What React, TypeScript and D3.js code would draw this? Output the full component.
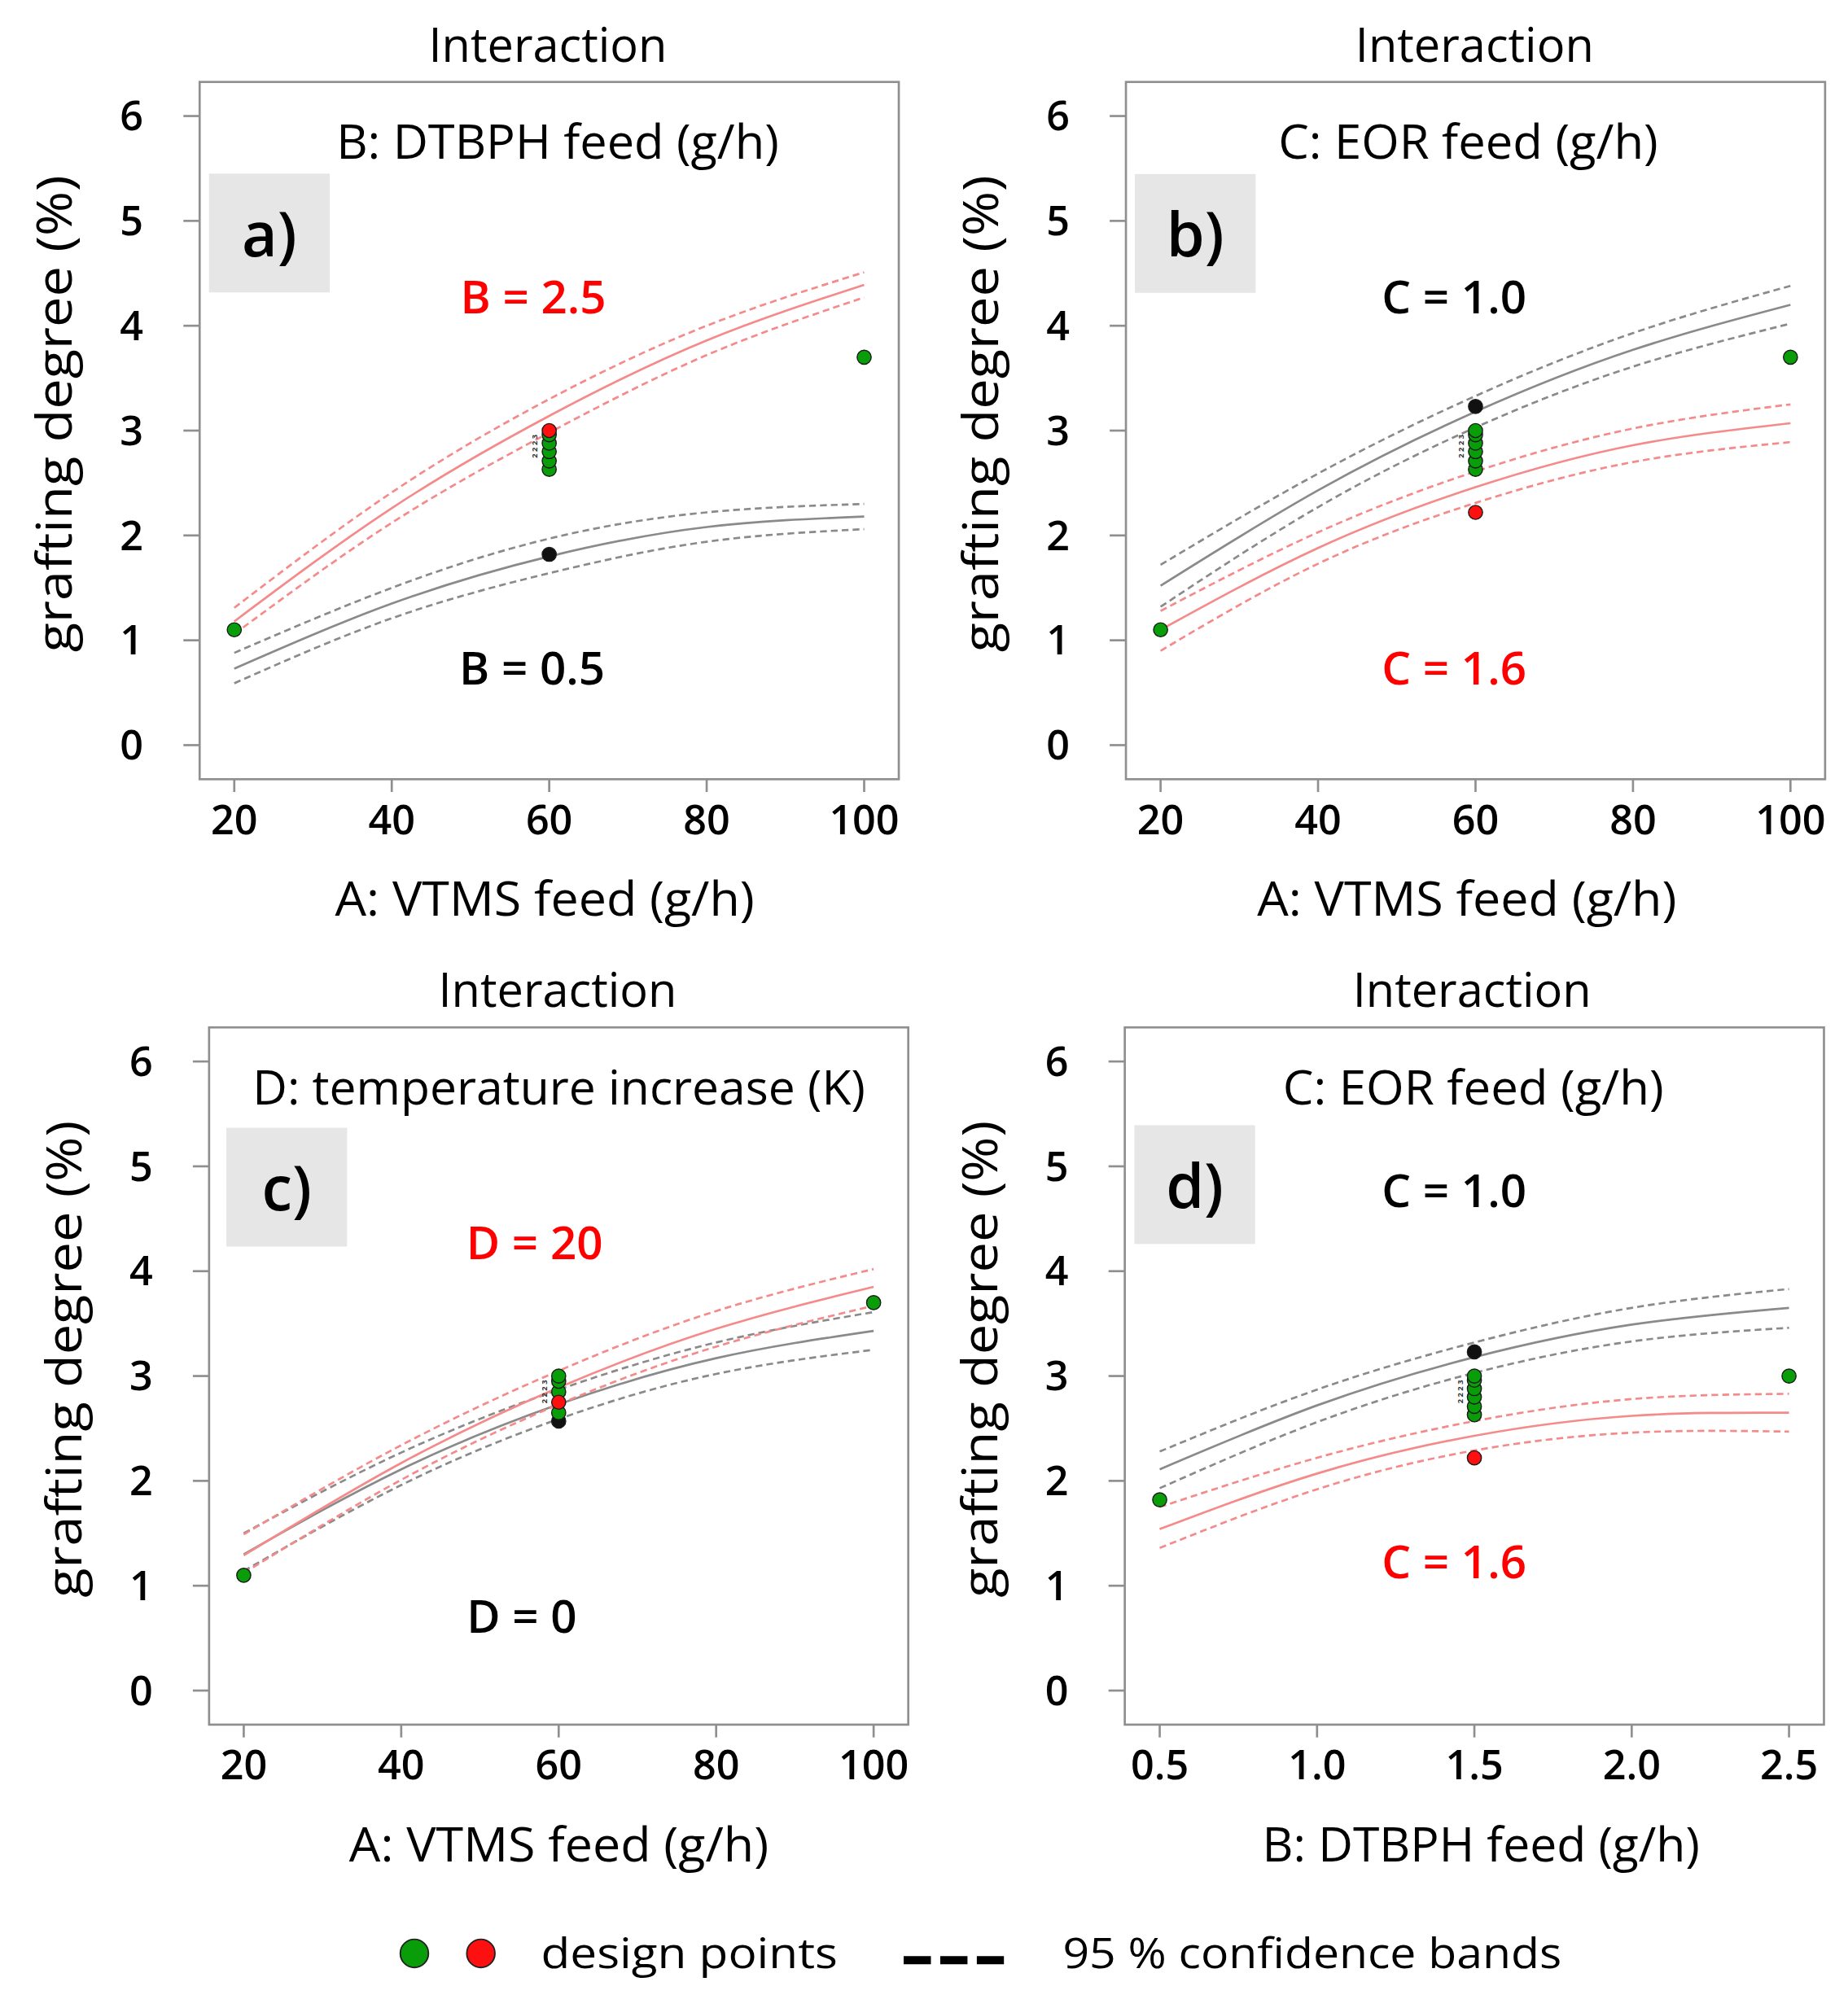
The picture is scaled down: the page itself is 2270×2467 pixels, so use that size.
import * as d3 from "d3";

// ---- data ----
const yTicks = [0, 1, 2, 3, 4, 5, 6];
const vtmsTicks = [20, 40, 60, 80, 100];
const dtbphTicks = [0.5, 1.0, 1.5, 2.0, 2.5];

// sample positions for the model curves
const vtmsX = [20, 40, 60, 80, 100];
const dtbphX = [0.5, 1.0, 1.5, 2.0, 2.5];

// a) A x B  (red: B = 2.5, gray: B = 0.5)
const aRedFit = [1.18, 2.26, 3.14, 3.86, 4.39];
const aRedHi = [1.31, 2.41, 3.3, 4.0, 4.51];
const aRedLo = [1.06, 2.12, 2.98, 3.72, 4.27];
const aGrayFit = [0.73, 1.35, 1.8, 2.08, 2.18];
const aGrayHi = [0.88, 1.5, 1.97, 2.22, 2.3];
const aGrayLo = [0.59, 1.21, 1.64, 1.94, 2.06];

// b) A x C  (gray: C = 1.0, red: C = 1.6)
const bGrayFit = [1.52, 2.43, 3.18, 3.77, 4.2];
const bGrayHi = [1.72, 2.59, 3.33, 3.93, 4.38];
const bGrayLo = [1.32, 2.27, 3.03, 3.61, 4.02];
const bRedFit = [1.1, 1.88, 2.46, 2.86, 3.07];
const bRedHi = [1.28, 2.03, 2.61, 3.02, 3.25];
const bRedLo = [0.9, 1.73, 2.31, 2.7, 2.89];

// c) A x D  (red: D = 20, gray: D = 0)
const cRedFit = [1.29, 2.17, 2.89, 3.45, 3.85];
const cRedHi = [1.49, 2.34, 3.05, 3.62, 4.02];
const cRedLo = [1.12, 2.01, 2.73, 3.28, 3.67];
const cGrayFit = [1.3, 2.11, 2.73, 3.17, 3.43];
const cGrayHi = [1.5, 2.27, 2.87, 3.32, 3.61];
const cGrayLo = [1.14, 1.96, 2.59, 3.02, 3.25];

// d) B x C  (gray: C = 1.0, red: C = 1.6)
const dGrayFit = [2.11, 2.72, 3.18, 3.49, 3.65];
const dGrayHi = [2.28, 2.87, 3.32, 3.65, 3.83];
const dGrayLo = [1.93, 2.56, 3.03, 3.33, 3.46];
const dRedFit = [1.54, 2.07, 2.43, 2.62, 2.65];
const dRedHi = [1.75, 2.22, 2.57, 2.78, 2.83];
const dRedLo = [1.36, 1.92, 2.29, 2.46, 2.47];

// design points: [x, y, colour]
const aPoints: [number, number, string][] = [
  [20, 1.1, "g"], [100, 3.7, "g"], [60, 1.82, "k"],
  [60, 2.63, "g"], [60, 2.71, "g"], [60, 2.8, "g"], [60, 2.88, "g"], [60, 2.96, "g"],
  [60, 3.0, "r"],
];
const bPoints: [number, number, string][] = [
  [20, 1.1, "g"], [100, 3.7, "g"], [60, 3.23, "k"], [60, 2.22, "r"],
  [60, 2.63, "g"], [60, 2.71, "g"], [60, 2.8, "g"], [60, 2.88, "g"], [60, 2.96, "g"], [60, 3.0, "g"],
];
const cPoints: [number, number, string][] = [
  [20, 1.1, "g"], [100, 3.7, "g"], [60, 2.57, "k"],
  [60, 2.65, "g"], [60, 2.85, "g"], [60, 2.95, "g"], [60, 3.0, "g"],
  [60, 2.75, "r"],
];
const dPoints: [number, number, string][] = [
  [0.5, 1.82, "g"], [2.5, 3.0, "g"], [1.5, 3.23, "k"], [1.5, 2.22, "r"],
  [1.5, 2.63, "g"], [1.5, 2.71, "g"], [1.5, 2.8, "g"], [1.5, 2.88, "g"], [1.5, 2.96, "g"], [1.5, 3.0, "g"],
];

// ---- layout (in 1445-wide view units) ----
const K = 2270 / 1445;
const VW = 1445;
const VH = 2467 / K;
const PW = 546.7;
const PH = 545.3;
const yDomain = [-0.325, 6.325];
const FONT = "'Open Sans', 'Noto Sans', sans-serif";
const RED = "#f58a8a";
const GRAY = "#8a8a8a";
const FILLS: Record<string, string> = { g: "#0a9d0a", r: "#ff1010", k: "#111111" };

const zip = (xs: number[], ys: number[]) => xs.map((v, i) => [v, ys[i]] as [number, number]);

const panels = [
  {
    id: "a", left: 156.1, top: 64.1, xDomain: [15.6, 104.4], xTicks: vtmsTicks, fmt: d3.format("d"),
    titleX: 428.4, inner: "B: DTBPH feed (g/h)", innerX: 436, innerLen: 346,
    xTitle: "A: VTMS feed (g/h)", xTitleX: 426, xTitleLen: 328,
    tag: "a)", tagDx: 7.3, tagDy: 71.7,
    labels: [
      { text: "B = 2.5", x: 417, dy: 181, color: "#ff0000" },
      { text: "B = 0.5", x: 416, dy: 471, color: "#000000" },
    ],
    curves: [
      { xs: vtmsX, fit: aGrayFit, hi: aGrayHi, lo: aGrayLo, color: GRAY },
      { xs: vtmsX, fit: aRedFit, hi: aRedHi, lo: aRedLo, color: RED },
    ],
    points: aPoints, clusterX: 60,
  },
  {
    id: "b", left: 880.4, top: 64.1, xDomain: [15.6, 104.4], xTicks: vtmsTicks, fmt: d3.format("d"),
    titleX: 1153, inner: "C: EOR feed (g/h)", innerX: 1148, innerLen: 297,
    xTitle: "A: VTMS feed (g/h)", xTitleX: 1147, xTitleLen: 328,
    tag: "b)", tagDx: 7, tagDy: 72,
    labels: [
      { text: "C = 1.0", x: 1137, dy: 181, color: "#000000" },
      { text: "C = 1.6", x: 1137, dy: 471, color: "#ff0000" },
    ],
    curves: [
      { xs: vtmsX, fit: bRedFit, hi: bRedHi, lo: bRedLo, color: RED },
      { xs: vtmsX, fit: bGrayFit, hi: bGrayHi, lo: bGrayLo, color: GRAY },
    ],
    points: bPoints, clusterX: 60,
  },
  {
    id: "c", left: 163.5, top: 803.5, xDomain: [15.6, 104.4], xTicks: vtmsTicks, fmt: d3.format("d"),
    titleX: 436, inner: "D: temperature increase (K)", innerX: 437, innerLen: 479,
    xTitle: "A: VTMS feed (g/h)", xTitleX: 437, xTitleLen: 328,
    tag: "c)", tagDx: 13.5, tagDy: 78.5,
    labels: [
      { text: "D = 20", x: 418, dy: 181.5, color: "#ff0000" },
      { text: "D = 0", x: 408, dy: 473.5, color: "#000000" },
    ],
    curves: [
      { xs: vtmsX, fit: cGrayFit, hi: cGrayHi, lo: cGrayLo, color: GRAY },
      { xs: vtmsX, fit: cRedFit, hi: cRedHi, lo: cRedLo, color: RED },
    ],
    points: cPoints, clusterX: 60,
  },
  {
    id: "d", left: 879.5, top: 803.5, xDomain: [0.389, 2.611], xTicks: dtbphTicks, fmt: d3.format(".1f"),
    titleX: 1151, inner: "C: EOR feed (g/h)", innerX: 1152, innerLen: 298,
    xTitle: "B: DTBPH feed (g/h)", xTitleX: 1158, xTitleLen: 342,
    tag: "d)", tagDx: 7.5, tagDy: 76.5,
    labels: [
      { text: "C = 1.0", x: 1137, dy: 140.5, color: "#000000" },
      { text: "C = 1.6", x: 1137, dy: 430.5, color: "#ff0000" },
    ],
    curves: [
      { xs: dtbphX, fit: dRedFit, hi: dRedHi, lo: dRedLo, color: RED },
      { xs: dtbphX, fit: dGrayFit, hi: dGrayHi, lo: dGrayLo, color: GRAY },
    ],
    points: dPoints, clusterX: 1.5,
  },
];

function Panel({ p }: { p: (typeof panels)[number] }) {
  const x = d3.scaleLinear().domain(p.xDomain).range([p.left, p.left + PW]);
  const y = d3.scaleLinear().domain(yDomain).range([p.top + PH, p.top]);
  const line = d3
    .line<[number, number]>()
    .x((d) => x(d[0]))
    .y((d) => y(d[1]))
    .curve(d3.curveNatural);
  const bottom = p.top + PH;
  const cx = x(p.clusterX);

  return (
    <g>
      {/* panel title */}
      <text x={p.titleX} y={p.top - 16} textAnchor="middle" fontSize={36.8} fontWeight={500} textLength={186.5}
        lengthAdjust="spacingAndGlyphs">Interaction</text>

      {/* plot frame */}
      <rect x={p.left} y={p.top} width={PW} height={PH} fill="#fff" stroke="#8f8f8f" strokeWidth={1.7} />

      {/* y axis */}
      {yTicks.map((t) => (
        <g key={"y" + t}>
          <line x1={p.left - 12.7} x2={p.left} y1={y(t)} y2={y(t)} stroke="#8f8f8f" strokeWidth={1.7} />
          <text x={p.left - 44} y={y(t) + 11.3} textAnchor="end" fontSize={32} fontWeight={600}>{t}</text>
        </g>
      ))}
      <text transform={`translate(${p.left - 100},${p.top + 259.5}) rotate(-90)`} textAnchor="middle"
        fontSize={38} fontWeight={500} textLength={373} lengthAdjust="spacingAndGlyphs">grafting degree (%)</text>

      {/* x axis */}
      {p.xTicks.map((t) => (
        <g key={"x" + t}>
          <line x1={x(t)} x2={x(t)} y1={bottom} y2={bottom + 10} stroke="#8f8f8f" strokeWidth={1.7} />
          <text x={x(t)} y={bottom + 43} textAnchor="middle" fontSize={32} fontWeight={600}>{p.fmt(t)}</text>
        </g>
      ))}
      <text x={p.xTitleX} y={bottom + 107} textAnchor="middle" fontSize={37.5} fontWeight={500}
        textLength={p.xTitleLen} lengthAdjust="spacingAndGlyphs">{p.xTitle}</text>

      {/* inner factor title, tag box and level labels */}
      <text x={p.innerX} y={p.top + 60.3} textAnchor="middle" fontSize={37} fontWeight={500}
        textLength={p.innerLen} lengthAdjust="spacingAndGlyphs">{p.inner}</text>
      <rect x={p.left + p.tagDx} y={p.top + p.tagDy} width={94.4} height={92.9} fill="#e6e6e6" />
      <text x={p.left + p.tagDx + 47.2} y={p.top + p.tagDy + 64.7} textAnchor="middle" fontSize={48}
        fontWeight={600}>{p.tag}</text>
      {p.labels.map((l) => (
        <text key={l.text} x={l.x} y={p.top + l.dy} textAnchor="middle" fontSize={36} fontWeight={600}
          fill={l.color}>{l.text}</text>
      ))}

      {/* model curves with 95 % bands */}
      {p.curves.map((c, i) => (
        <g key={"c" + i} fill="none" stroke={c.color} strokeWidth={1.7}>
          <path d={line(zip(c.xs, c.hi)) ?? ""} strokeDasharray="5.3 3.2" />
          <path d={line(zip(c.xs, c.lo)) ?? ""} strokeDasharray="5.3 3.2" />
          <path d={line(zip(c.xs, c.fit)) ?? ""} />
        </g>
      ))}

      {/* tiny replicate marks beside the centre points */}
      <text transform={`translate(${cx - 9},${y(2.85)}) rotate(-90)`} textAnchor="middle" fontSize={6}
        fill="#333" fontWeight={700}>2 2 2 3</text>

      {/* design points */}
      {p.points.map((d, i) => (
        <circle key={"p" + i} cx={x(d[0])} cy={y(d[1])} r={5.5} fill={FILLS[d[2]]} stroke="#1a1a1a"
          strokeWidth={0.9} />
      ))}
    </g>
  );
}

export default function App() {
  return (
    <svg
      width={2270}
      height={2467}
      viewBox={`0 0 ${VW} ${VH}`}
      style={{ position: "absolute", left: 0, top: 0, background: "#fff" }}
      fontFamily={FONT}
    >
      <rect x={0} y={0} width={VW} height={VH} fill="#fff" />
      {panels.map((p) => (
        <Panel key={p.id} p={p} />
      ))}

      {/* legend */}
      <circle cx={324} cy={1527.7} r={11} fill={FILLS.g} stroke="#222" strokeWidth={1.2} />
      <circle cx={376} cy={1527.7} r={11} fill={FILLS.r} stroke="#222" strokeWidth={1.2} />
      <text x={423} y={1539.4} fontSize={32} fontWeight={500} textLength={232}
        lengthAdjust="spacingAndGlyphs">design points</text>
      <line x1={706.6} x2={785} y1={1533} y2={1533} stroke="#000" strokeWidth={6.4} strokeDasharray="21.3 7.3" />
      <text x={831} y={1539.4} fontSize={32} fontWeight={500} textLength={390} lengthAdjust="spacingAndGlyphs">
        95 % confidence bands
      </text>
    </svg>
  );
}
